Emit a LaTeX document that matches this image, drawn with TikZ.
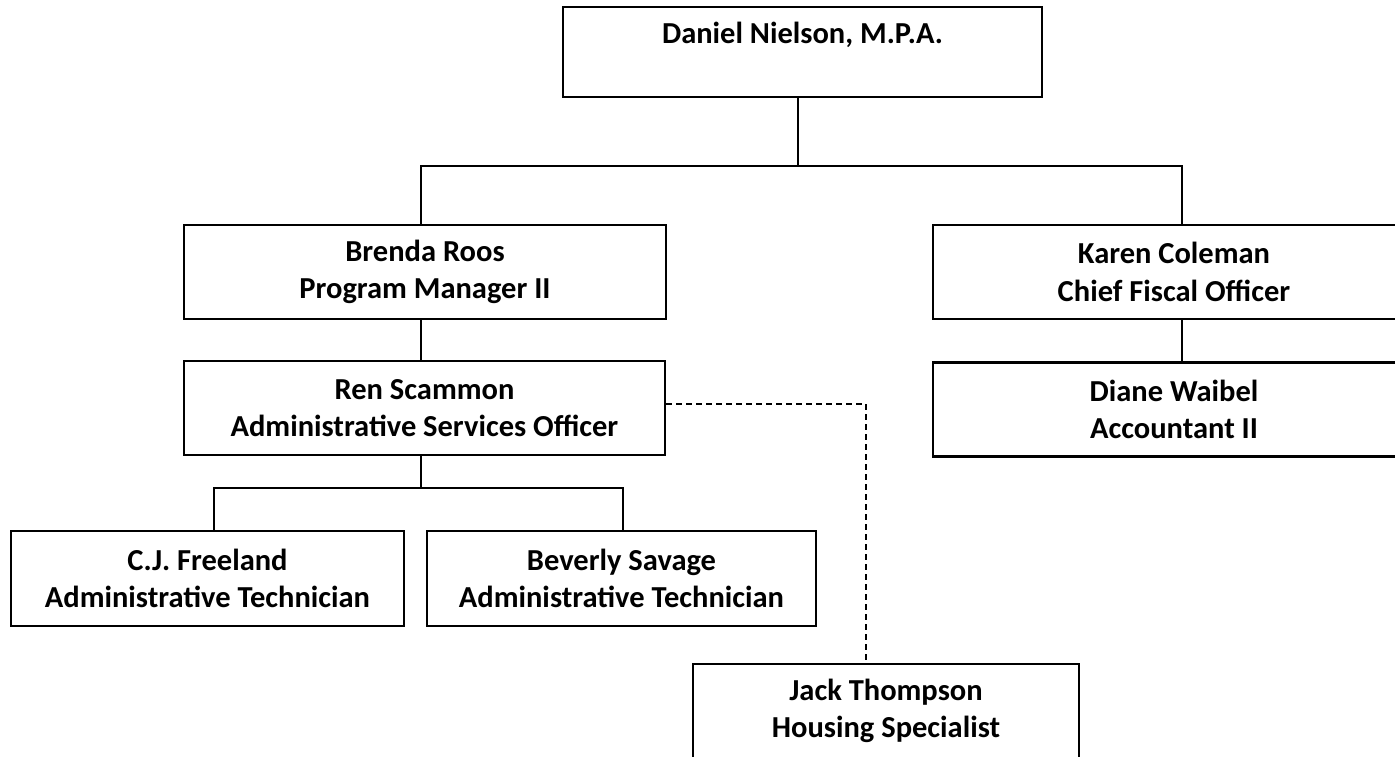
\documentclass[tikz,border=0pt]{standalone}
\usepackage{fontspec}
\setmainfont{Carlito}
\begin{document}
\begin{tikzpicture}[x=1pt,y=-1pt,
  box/.style={draw=black,line width=2.8pt,rectangle,inner sep=0pt,align=center,
    font=\fontsize{30.5}{37.5}\selectfont\bfseries},
  conn/.style={draw=black,line width=1.9pt},
  dashln/.style={draw=black,line width=1.4pt,dash pattern=on 6pt off 4pt}]
\useasboundingbox (0,0) rectangle (1395,756);
\clip (0,0) rectangle (1395,756);
\node[box,minimum width=479pt,minimum height=90pt] (daniel) at (802.5,52) {Daniel Nielson, M.P.A.\\\mbox{}};
\node[box,minimum width=482pt,minimum height=94pt] (brenda) at (425,272) {Brenda Roos\\Program Manager II};
\node[box,minimum width=482pt,minimum height=94pt] (karen) at (1174,272) {Karen Coleman\\Chief Fiscal Officer};
\node[box,minimum width=481pt,minimum height=94pt] (ren) at (424.5,408) {Ren Scammon\\Administrative Services Officer};
\node[box,minimum width=482pt,minimum height=94pt] (diane) at (1174,409.5) {Diane Waibel\\Accountant II};
\node[box,minimum width=393pt,minimum height=95pt] (cj) at (207.5,578.5) {C.J. Freeland\\Administrative Technician};
\node[box,minimum width=389pt,minimum height=95pt] (bev) at (621.5,578.5) {Beverly Savage\\Administrative Technician};
\node[box,minimum width=386pt,minimum height=94pt] (jack) at (886,711) {Jack Thompson\\Housing Specialist};
\coordinate (bL) at (421,166);
\coordinate (bM) at (798,166);
\coordinate (bR) at (1182,166);
\coordinate (cL) at (214,488);
\coordinate (cM) at (421,488);
\coordinate (cR) at (623,488);
\coordinate (d1) at (866,404);
\draw[conn] (daniel.south -| bM) -- (bM);
\draw[conn] (brenda.north -| bL) -- (bL) -- (bR) -- (karen.north -| bR);
\draw[conn] (brenda.south -| bL) -- (ren.north -| bL);
\draw[conn] (karen.south -| bR) -- (diane.north -| bR);
\draw[conn] (ren.south -| cM) -- (cM);
\draw[conn] (cj.north -| cL) -- (cL) -- (cR) -- (bev.north -| cR);
\draw[dashln] (ren.east |- d1) -- (d1) -- (jack.north -| d1);
\end{tikzpicture}
\end{document}
